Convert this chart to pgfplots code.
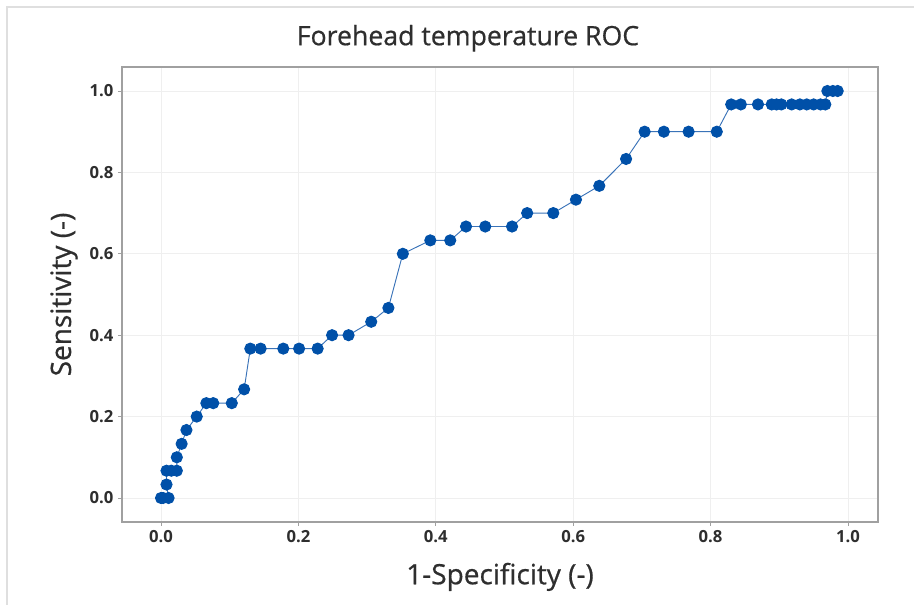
\documentclass[border=0pt]{standalone}
\usepackage{pgfplots}
\pgfplotsset{compat=1.18}
\usepackage{fontspec}
\setmainfont{Open Sans}
\definecolor{mblue}{HTML}{0050A8}
\definecolor{lblue}{HTML}{3A73B8}
\definecolor{framegray}{HTML}{A0A0A0}
\definecolor{gridgray}{HTML}{EFEFEF}
\definecolor{txt}{HTML}{2E2E2E}
\begin{document}
\begin{tikzpicture}[x=0.75pt,y=0.75pt]
\path[use as bounding box] (-122,-83) rectangle (792,522);
\draw[gray!25, line width=0.8pt] (-115,-90) -- (-115,515) -- (800,515);
\begin{axis}[
  at={(0,0)}, anchor=south west,
  scale only axis, width=567pt, height=341.25pt,
  xmin=-0.0568, xmax=1.0437, ymin=-0.059, ymax=1.059,
  xtick={0,0.2,...,1.0}, ytick={0,0.2,...,1.0},
  /pgf/number format/.cd, fixed, fixed zerofill, precision=1, assume math mode=true,
  /pgfplots/.cd,
  grid=major, major grid style={gridgray, line width=0.6pt},
  axis line style={framegray, line width=0.8pt},
  tick style={framegray, line width=0.6pt},
  tick align=outside, major tick length=3pt,
  xtick pos=bottom, ytick pos=left,
  ticklabel style={font=\fontsize{12.5}{14}\selectfont\bfseries, text=txt},
  title={Forehead temperature ROC},
  title style={font=\fontsize{20}{24}\selectfont\addfontfeature{FakeBold=0.6}, text=txt, yshift=2pt, xshift=-24pt},
  xlabel={1-Specificity (-)}, ylabel={Sensitivity (-)},
  label style={font=\fontsize{21}{24}\selectfont\addfontfeature{FakeBold=0.6}, text=txt},
  xlabel style={yshift=-8pt},
  ylabel style={yshift=2pt},
]
\addplot[color=lblue, line width=0.7pt, mark=*, mark size=4.2pt,
  mark options={fill=mblue, draw=mblue}] coordinates {
(0.000,0.000) (0.003,0.000) (0.011,0.000) (0.008,0.033)
(0.008,0.067) (0.015,0.067) (0.023,0.067)
(0.023,0.100) (0.030,0.133) (0.037,0.167) (0.052,0.200)
(0.066,0.233) (0.076,0.233) (0.103,0.233) (0.121,0.267)
(0.130,0.367) (0.145,0.367) (0.178,0.367) (0.201,0.367) (0.228,0.367)
(0.249,0.400) (0.273,0.400) (0.306,0.433) (0.331,0.467)
(0.352,0.600) (0.392,0.633) (0.421,0.633)
(0.444,0.667) (0.472,0.667) (0.511,0.667)
(0.533,0.700) (0.571,0.700) (0.604,0.733) (0.638,0.767) (0.677,0.833)
(0.704,0.900) (0.732,0.900) (0.768,0.900) (0.809,0.900)
(0.830,0.967) (0.844,0.967) (0.869,0.967) (0.889,0.967) (0.896,0.967) (0.903,0.967)
(0.918,0.967) (0.930,0.967) (0.940,0.967) (0.950,0.967) (0.960,0.967) (0.967,0.967)
(0.970,1.000) (0.978,1.000) (0.985,1.000)
};
\end{axis}
\end{tikzpicture}
\end{document}
